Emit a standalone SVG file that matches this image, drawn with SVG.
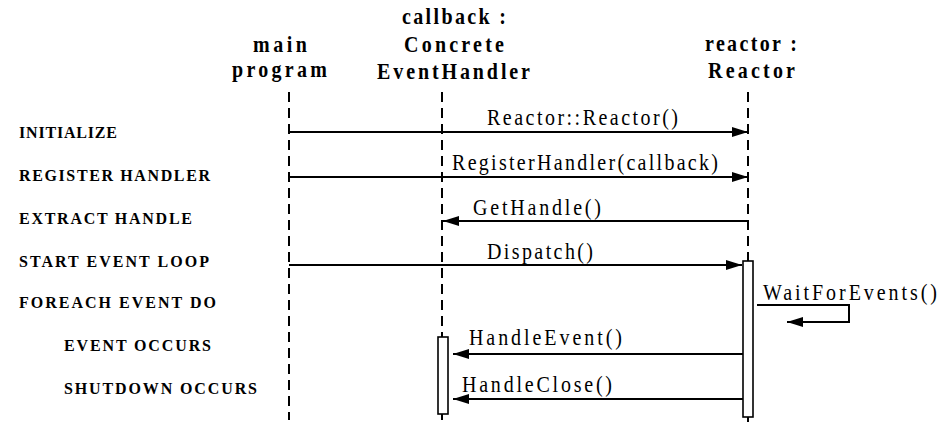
<svg xmlns="http://www.w3.org/2000/svg" width="950" height="442" viewBox="0 0 950 442">
<style>
.hdr{font-family:"Liberation Serif","Times New Roman",serif;font-weight:bold;font-size:20px;fill:#000}
.msg{font-family:"Liberation Serif","Times New Roman",serif;font-size:20px;fill:#000}
.step{font-family:"Liberation Serif","Times New Roman",serif;font-weight:bold;font-size:16px;fill:#000}
.life{stroke:#000;stroke-width:2;stroke-dasharray:10,6;fill:none}
.act{fill:#fff;stroke:#000;stroke-width:1.6}
.arr{stroke:#000;stroke-width:2;fill:none}
</style>
<defs>
<marker id="ah" markerWidth="16" markerHeight="10" refX="16" refY="5" orient="auto" markerUnits="userSpaceOnUse">
<path d="M0,0 L16,5 L0,10 Z" fill="#000"/>
</marker>
</defs>
<rect width="950" height="442" fill="#fff"/>

<g id="steps">
<text class="step" transform="translate(19,138) scale(1,1.08)" textLength="98" lengthAdjust="spacing">INITIALIZE</text>
<text class="step" transform="translate(19,181) scale(1,1.08)" textLength="191" lengthAdjust="spacing">REGISTER HANDLER</text>
<text class="step" transform="translate(19,224) scale(1,1.08)" textLength="173" lengthAdjust="spacing">EXTRACT HANDLE</text>
<text class="step" transform="translate(19,267) scale(1,1.08)" textLength="190" lengthAdjust="spacing">START EVENT LOOP</text>
<text class="step" transform="translate(19,308) scale(1,1.08)" textLength="197" lengthAdjust="spacing">FOREACH EVENT DO</text>
<text class="step" transform="translate(64,351) scale(1,1.08)" textLength="147" lengthAdjust="spacing">EVENT OCCURS</text>
<text class="step" transform="translate(64,394) scale(1,1.08)" textLength="193" lengthAdjust="spacing">SHUTDOWN OCCURS</text>
</g>

<g id="main-program">
<text class="hdr" transform="translate(253,52) scale(1,1.13)" textLength="54" lengthAdjust="spacing">main</text>
<text class="hdr" transform="translate(232,77) scale(1,1.13)" textLength="95" lengthAdjust="spacing">program</text>
<line class="life" x1="289" y1="92" x2="289" y2="420"/>
</g>

<g id="callback">
<text class="hdr" transform="translate(402,24) scale(1,1.13)" textLength="104" lengthAdjust="spacing">callback :</text>
<text class="hdr" transform="translate(404,52) scale(1,1.13)" textLength="100" lengthAdjust="spacing">Concrete</text>
<text class="hdr" transform="translate(377,79) scale(1,1.13)" textLength="153" lengthAdjust="spacing">EventHandler</text>
<line class="life" x1="442" y1="92" x2="442" y2="420"/>
<rect class="act" x="438" y="337" width="10" height="77"/>
</g>

<g id="reactor">
<text class="hdr" transform="translate(705,51) scale(1,1.13)" textLength="92" lengthAdjust="spacing">reactor :</text>
<text class="hdr" transform="translate(708,78) scale(1,1.13)" textLength="87" lengthAdjust="spacing">Reactor</text>
<line class="life" x1="748" y1="92" x2="748" y2="425"/>
<rect class="act" x="743" y="261" width="10" height="156"/>
</g>

<g id="connectors">
<line class="arr" x1="289" y1="132" x2="748" y2="132" marker-end="url(#ah)"/>
<text class="msg" transform="translate(487,125) scale(1,1.13)" textLength="191" lengthAdjust="spacing">Reactor::Reactor()</text>
<line class="arr" x1="289" y1="177" x2="748" y2="177" marker-end="url(#ah)"/>
<text class="msg" transform="translate(452,170) scale(1,1.13)" textLength="266" lengthAdjust="spacing">RegisterHandler(callback)</text>
<line class="arr" x1="748" y1="221" x2="443" y2="221" marker-end="url(#ah)"/>
<text class="msg" transform="translate(473,215) scale(1,1.13)" textLength="128" lengthAdjust="spacing">GetHandle()</text>
<line class="arr" x1="289" y1="265" x2="742" y2="265" marker-end="url(#ah)"/>
<text class="msg" transform="translate(487,259) scale(1,1.13)" textLength="106" lengthAdjust="spacing">Dispatch()</text>
<polyline class="arr" points="757,305 849,305 849,322 787,322" marker-end="url(#ah)"/>
<text class="msg" transform="translate(763,300) scale(1,1.13)" textLength="174" lengthAdjust="spacing">WaitForEvents()</text>
<line class="arr" x1="743" y1="354" x2="453" y2="354" marker-end="url(#ah)"/>
<text class="msg" transform="translate(469,345) scale(1,1.13)" textLength="153" lengthAdjust="spacing">HandleEvent()</text>
<line class="arr" x1="743" y1="399" x2="453" y2="399" marker-end="url(#ah)"/>
<text class="msg" transform="translate(462,392) scale(1,1.13)" textLength="150" lengthAdjust="spacing">HandleClose()</text>
</g>
</svg>
